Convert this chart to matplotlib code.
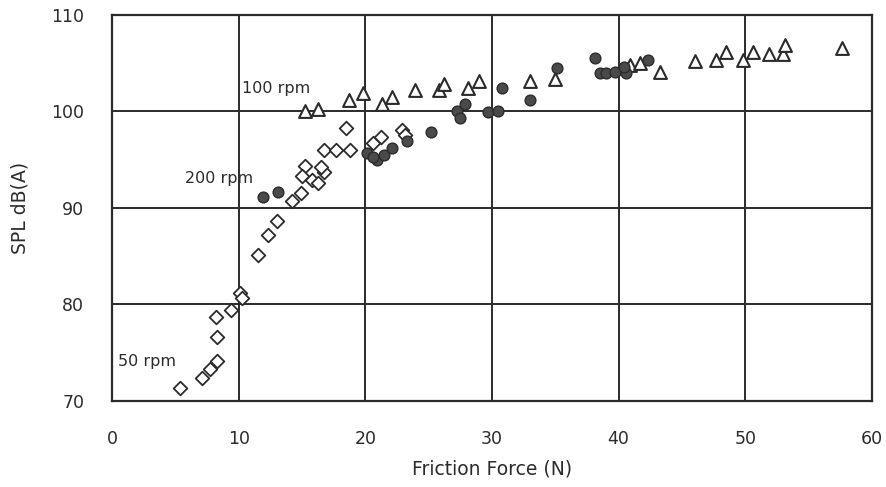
import matplotlib.pyplot as plt

# 50 rpm (open diamonds)
x50 = [5.4, 7.1, 7.7, 8.3, 8.3, 8.2, 9.4, 10.1, 10.3, 11.5, 12.3, 13.0, 14.2, 14.9,
       15.2, 15.0, 15.8, 16.3, 16.7, 16.5, 16.7, 17.7, 18.8, 18.5, 20.6, 21.2, 22.9, 23.1]
y50 = [71.3, 72.4, 73.3, 74.1, 76.6, 78.7, 79.4, 81.2, 80.7, 85.1, 87.2, 88.7, 90.7, 91.6,
       94.4, 93.3, 92.9, 92.6, 93.7, 94.2, 96.0, 96.0, 96.0, 98.3, 96.7, 97.4, 98.1, 97.6]

# 200 rpm (filled circles)
x200 = [11.9, 13.1, 20.1, 20.9, 20.6, 21.5, 22.1, 23.3, 25.2, 27.2, 27.9, 27.5, 29.7,
        30.5, 30.8, 33.0, 35.1, 38.1, 38.5, 39.0, 39.7, 40.6, 40.4, 42.3]
y200 = [91.1, 91.7, 95.7, 95.0, 95.3, 95.5, 96.2, 96.9, 97.9, 100.1, 100.8, 99.3, 99.9,
        100.0, 102.4, 101.2, 104.5, 105.5, 104.0, 104.0, 104.1, 104.0, 104.6, 105.3]

# 100 rpm (open triangles)
x100 = [15.2, 16.3, 18.7, 19.8, 21.3, 22.1, 23.9, 25.8, 26.2, 28.1, 29.0, 33.0, 35.0,
        40.9, 41.7, 43.3, 46.0, 47.7, 48.5, 49.8, 50.6, 51.9, 53.0, 53.1, 57.6]
y100 = [100.0, 100.3, 101.2, 101.9, 100.8, 101.5, 102.2, 102.2, 102.9, 102.4, 103.2, 103.2, 103.4,
        104.8, 105.0, 104.1, 105.2, 105.3, 106.2, 105.3, 106.2, 106.0, 106.0, 106.9, 106.6]

xticks = [0, 10, 20, 30, 40, 50, 60]
yticks = [70, 80, 90, 100, 110]

fig = plt.figure(figsize=(8.87, 4.87), dpi=100)
ax = fig.add_axes([0.1263, 0.1766, 0.8567, 0.7926])

ink = '#2b2b2b'
ax.scatter(x50, y50, marker='D', s=48, facecolors='white', edgecolors=ink, linewidths=1.3, zorder=3)
ax.scatter(x100, y100, marker='^', s=85, facecolors='white', edgecolors=ink, linewidths=1.5, zorder=3)
ax.scatter(x200, y200, marker='o', s=60, facecolors='#4a4a4a', edgecolors=ink, linewidths=1.0, zorder=4)

ax.text(10.3, 102.4, '100 rpm', fontsize=11.5, color=ink, va='center')
ax.text(5.8, 93.1, '200 rpm', fontsize=11.5, color=ink, va='center')
ax.text(0.5, 74.1, '50 rpm', fontsize=11.5, color=ink, va='center')

ax.set_xlim(0, 60)
ax.set_ylim(70, 110)
ax.set_xticks(xticks)
ax.set_yticks(yticks)
ax.grid(True, color=ink, linewidth=1.4)
ax.set_axisbelow(True)
for s in ax.spines.values():
    s.set_color(ink)
    s.set_linewidth(1.6)
ax.tick_params(length=0, labelsize=12.5, labelcolor=ink)
ax.tick_params(axis='x', pad=21)
ax.tick_params(axis='y', pad=20)
ax.set_xlabel('Friction Force (N)', fontsize=13.5, color=ink, labelpad=8)
ax.set_ylabel('SPL dB(A)', fontsize=13.5, color=ink, labelpad=16)

fig.savefig('out.png', dpi=100)
